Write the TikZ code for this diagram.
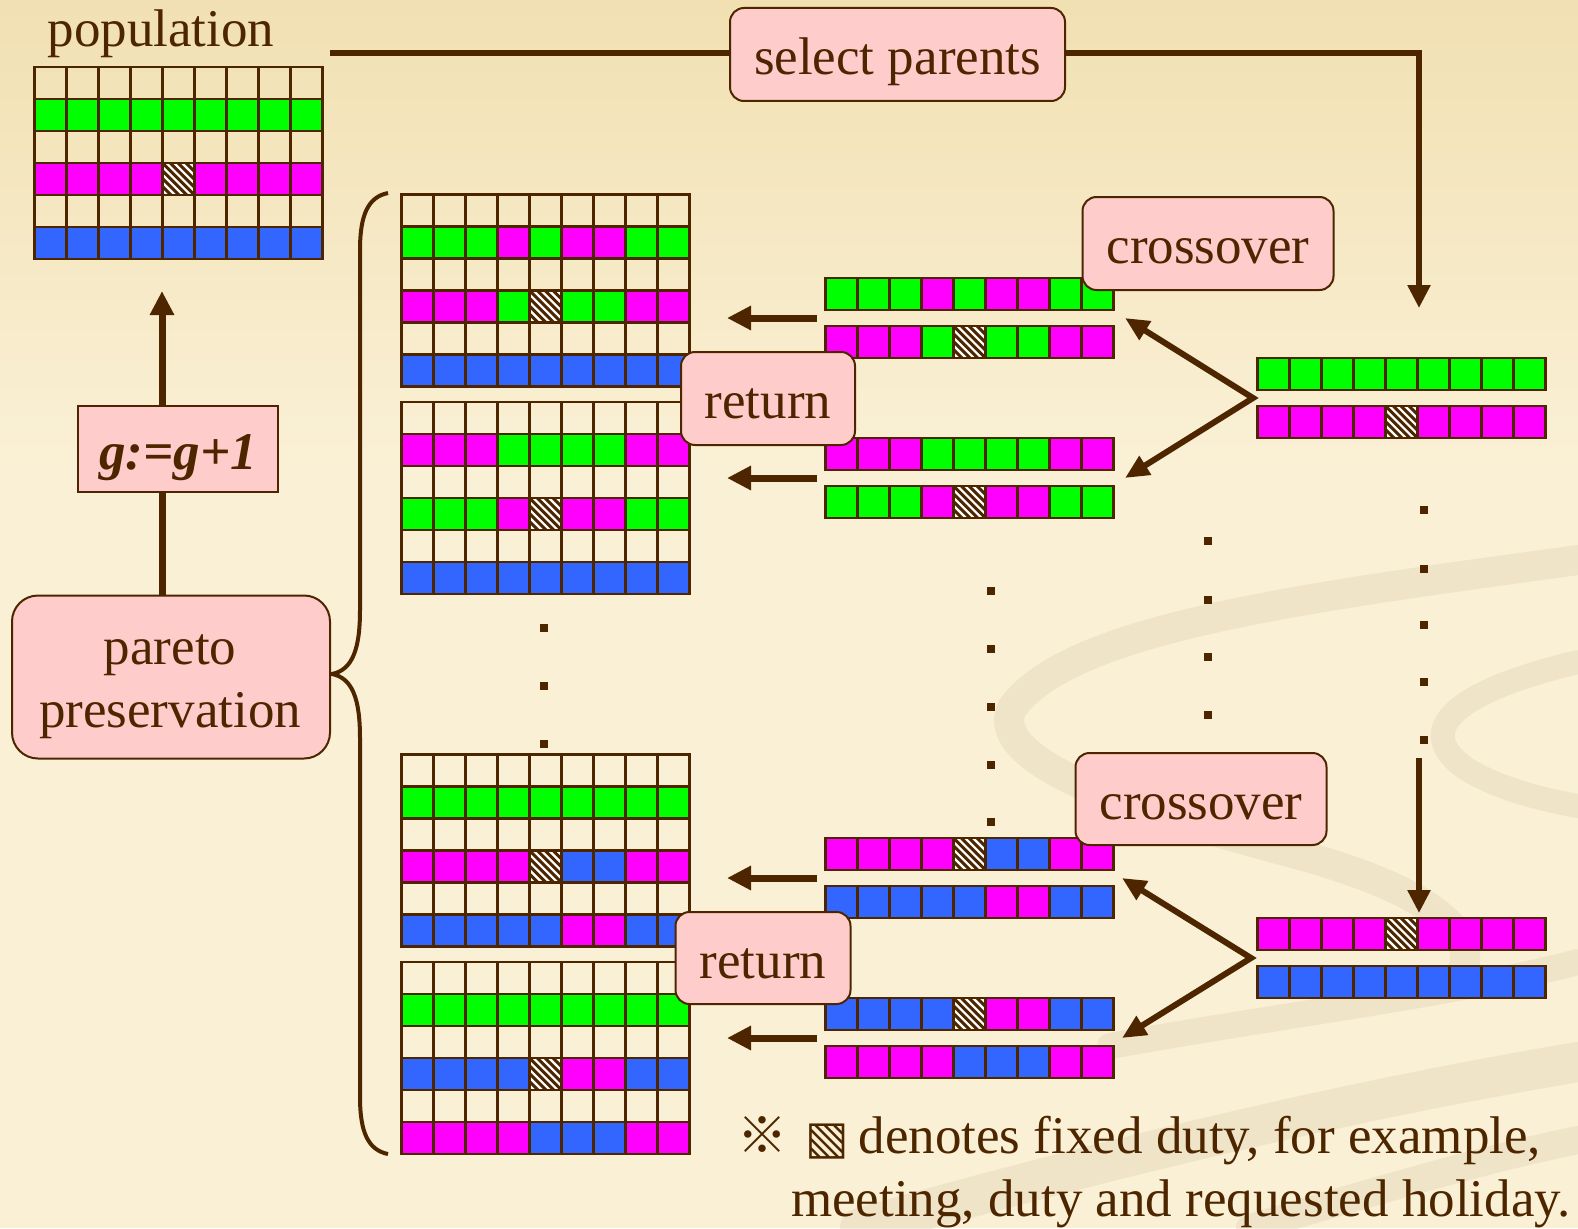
\documentclass[tikz,border=0pt]{standalone}
\usepackage{fontspec}
\setmainfont{Liberation Serif}
\newfontfamily\cjkfont{Noto Sans CJK JP}
\newfontfamily\symfont{DejaVu Sans}
\usetikzlibrary{arrows.meta}
\definecolor{brn}{RGB}{77,38,0}
\definecolor{cG}{RGB}{0,255,0}
\definecolor{cM}{RGB}{255,0,255}
\definecolor{cB}{RGB}{51,102,255}
\definecolor{pinkbox}{RGB}{255,204,204}
\definecolor{bgtop}{RGB}{241,224,178}
\definecolor{bgbot}{RGB}{250,240,213}
\definecolor{swirlc}{RGB}{222,210,178}
\newcommand\bigtxt{\fontsize{53}{62}\selectfont}
\tikzset{
  cellline/.style={draw=brn, line width=2.2},
  gridframe/.style={draw=brn, line width=2.2, inner sep=0pt, outer sep=0pt, anchor=north west},
  pbox/.style={draw=brn, line width=2, fill=pinkbox, rounded corners=14pt, inner sep=0pt,
    text=brn, font=\bigtxt, text height=40pt, text depth=0pt},
  txt/.style={text=brn, font=\bigtxt, inner sep=0pt},
  conn/.style={draw=brn, line width=6.5},
  vtip/.style={draw=brn, line width=5.5, -{Triangle[length=23pt,width=22pt]}},
  thickarrow/.style={draw=brn, line width=7, -{Triangle[length=24pt,width=23pt]}},
  xarrow/.style={draw=brn, line width=6, {Triangle[length=24pt,width=21pt]}-{Triangle[length=24pt,width=21pt]}},
  swirl/.style={draw=swirlc, opacity=0.38, line cap=round},
  dotmark/.style={fill=brn}
}
\newcommand\cellG[2]{\filldraw[fill=cG,cellline] ({#1},{#2}) rectangle ++(32,32);}
\newcommand\cellM[2]{\filldraw[fill=cM,cellline] ({#1},{#2}) rectangle ++(32,32);}
\newcommand\cellB[2]{\filldraw[fill=cB,cellline] ({#1},{#2}) rectangle ++(32,32);}
\newcommand\cellE[2]{\draw[cellline] ({#1},{#2}) rectangle ++(32,32);}
\newcommand\cellH[2]{%
  \begin{scope}
    \clip ({#1},{#2}) rectangle ++(32,32);
    \fill[white] ({#1},{#2}) rectangle ++(32,32);
    \foreach \k in {-5,...,5}{\draw[brn,line width=3] ({#1+\k*7.8},{#2}) -- ++(32,32);}
  \end{scope}
  \draw[cellline] ({#1},{#2}) rectangle ++(32,32);}
\newcommand\cellrow[3]{\foreach \c [count=\i from 0] in {#3}{\csname cell\c\endcsname{#1+\i*32}{#2}}}
\newcommand\sixgrid[5]{%
  \cellrow{#1}{#2}{E,E,E,E,E,E,E,E,E}
  \cellrow{#1}{#2+64}{E,E,E,E,E,E,E,E,E}
  \cellrow{#1}{#2+128}{E,E,E,E,E,E,E,E,E}
  \cellrow{#1}{#2+32}{#3}
  \cellrow{#1}{#2+96}{#4}
  \cellrow{#1}{#2+160}{#5}}
\begin{document}
\begin{tikzpicture}[x=1pt,y=-1pt]
\useasboundingbox (0,0) rectangle (1578,1228);
% background
\fill[bgbot] (0,0) rectangle (1578,1228);
\shade[top color=bgtop, bottom color=bgbot] (0,0) rectangle (1578,460);
% decorative swirls
\draw[swirl, line width=30] (1578,560) .. controls (1300,598) and (1070,628) .. (1012,708) .. controls (985,765) and (1150,815) .. (1300,855) .. controls (1420,888) and (1480,930) .. (1462,972);
\draw[swirl, line width=24] (1578,662) .. controls (1460,690) and (1410,728) .. (1465,768) .. controls (1500,790) and (1545,800) .. (1578,806);
\draw[swirl, line width=26] (1110,1046) .. controls (1300,1012) and (1450,995) .. (1578,962);
\draw[swirl, line width=40] (860,1228) .. controls (1100,1160) and (1350,1100) .. (1578,1062);
\draw[swirl, line width=28] (1250,1228) .. controls (1380,1190) and (1480,1160) .. (1578,1140);

% ---------- population grid ----------
\node[txt, anchor=base] (poplbl) at (161,47) {population};
\sixgrid{34.5}{67}{G,G,G,G,G,G,G,G,G}{M,M,M,M,H,M,M,M,M}{B,B,B,B,B,B,B,B,B}
\node[gridframe, minimum width=288, minimum height=192] (pop) at (34.5,67) {};

% ---------- offspring populations ----------
\sixgrid{401.5}{194.5}{G,G,G,M,G,M,M,G,G}{M,M,M,G,H,G,G,M,M}{B,B,B,B,B,B,B,B,B}
\node[gridframe, minimum width=288, minimum height=192] (g1) at (401.5,194.5) {};
\sixgrid{401.5}{402}{M,M,M,G,G,G,G,M,M}{G,G,G,M,H,M,M,G,G}{B,B,B,B,B,B,B,B,B}
\node[gridframe, minimum width=288, minimum height=192] (g2) at (401.5,402) {};
\sixgrid{401.5}{754.5}{G,G,G,G,G,G,G,G,G}{M,M,M,M,H,B,B,M,M}{B,B,B,B,B,M,M,B,B}
\node[gridframe, minimum width=288, minimum height=192] (g3) at (401.5,754.5) {};
\sixgrid{401.5}{962}{G,G,G,G,G,G,G,G,G}{B,B,B,B,H,M,M,B,B}{M,M,M,M,B,B,B,M,M}
\node[gridframe, minimum width=288, minimum height=192] (g4) at (401.5,962) {};

% ---------- children strips ----------
\cellrow{825.5}{278}{G,G,G,M,G,M,M,G,G}
\node[gridframe, minimum width=288, minimum height=32] (sA) at (825.5,278) {};
\cellrow{825.5}{326}{M,M,M,G,H,G,G,M,M}
\node[gridframe, minimum width=288, minimum height=32] (sB) at (825.5,326) {};
\cellrow{825.5}{438}{M,M,M,G,G,G,G,M,M}
\node[gridframe, minimum width=288, minimum height=32] (sC) at (825.5,438) {};
\cellrow{825.5}{486}{G,G,G,M,H,M,M,G,G}
\node[gridframe, minimum width=288, minimum height=32] (sD) at (825.5,486) {};
\cellrow{825.5}{838}{M,M,M,M,H,B,B,M,M}
\node[gridframe, minimum width=288, minimum height=32] (sE) at (825.5,838) {};
\cellrow{825.5}{886}{B,B,B,B,B,M,M,B,B}
\node[gridframe, minimum width=288, minimum height=32] (sF) at (825.5,886) {};
\cellrow{825.5}{998}{B,B,B,B,H,M,M,B,B}
\node[gridframe, minimum width=288, minimum height=32] (sG) at (825.5,998) {};
\cellrow{825.5}{1046}{M,M,M,M,B,B,B,M,M}
\node[gridframe, minimum width=288, minimum height=32] (sH) at (825.5,1046) {};

% ---------- parents strips ----------
\cellrow{1257.5}{358}{G,G,G,G,G,G,G,G,G}
\node[gridframe, minimum width=288, minimum height=32] (p1) at (1257.5,358) {};
\cellrow{1257.5}{406}{M,M,M,M,H,M,M,M,M}
\node[gridframe, minimum width=288, minimum height=32] (p2) at (1257.5,406) {};
\cellrow{1257.5}{918}{M,M,M,M,H,M,M,M,M}
\node[gridframe, minimum width=288, minimum height=32] (p3) at (1257.5,918) {};
\cellrow{1257.5}{966}{B,B,B,B,B,B,B,B,B}
\node[gridframe, minimum width=288, minimum height=32] (p4) at (1257.5,966) {};

% ---------- ellipsis dots ----------
\foreach \y in {628,686,744} \fill[dotmark] (540,{\y-4}) rectangle ++(8,8);
\foreach \y in {591,649,707,765,822} \fill[dotmark] (987,{\y-4}) rectangle ++(8,8);
\foreach \y in {541,600,657,715} \fill[dotmark] (1204,{\y-4}) rectangle ++(8,8);
\foreach \y in {510,569,625,682,740} \fill[dotmark] (1420,{\y-4}) rectangle ++(8,8);

% ---------- brace ----------
\draw[brn, line width=4] (388,193) .. controls (368,197) and (360,215) .. (360,250) -- (360,610)
  .. controls (360,650) and (352,670) .. (332,674)
  .. controls (352,678) and (360,698) .. (360,738) -- (360,1097)
  .. controls (360,1132) and (368,1150) .. (388,1154);

% ---------- connectors ----------
\coordinate (selstart) at (330,53);
\coordinate (rtop) at (1419,53);
\coordinate (rtip) at (1419,308);
\coordinate (rlow) at (1419,758);
\coordinate (rlowtip) at (1419,913);
\coordinate (gx) at (162,0);
\coordinate (gtip) at (162,291);
\coordinate (v1) at (1253,398);
\coordinate (c1a) at (1125,318);
\coordinate (c1b) at (1125,478);
\coordinate (v2) at (1251,958);
\coordinate (c2a) at (1122,878);
\coordinate (c2b) at (1122,1038);
\coordinate (ra1) at (817,318);  \coordinate (rb1) at (727,318);
\coordinate (ra2) at (817,478);  \coordinate (rb2) at (727,478);
\coordinate (ra3) at (817,878);  \coordinate (rb3) at (727,878);
\coordinate (ra4) at (817,1038); \coordinate (rb4) at (727,1038);

\draw[conn] (selstart) -- ([xshift=2.75pt]rtop);
\draw[vtip] ([yshift=-3pt]rtop) -- (rtip);
\draw[vtip] (rlow) -- (rlowtip);
\draw[xarrow] (c1a) -- (v1) -- (c1b);
\draw[xarrow] (c2a) -- (v2) -- (c2b);
\draw[thickarrow] (ra1) -- (rb1);
\draw[thickarrow] (ra2) -- (rb2);
\draw[thickarrow] (ra3) -- (rb3);
\draw[thickarrow] (ra4) -- (rb4);

% ---------- boxes ----------
\node[pbox, minimum width=335, minimum height=93] (sel) at (897.5,54.5) {select parents};
\node[pbox, minimum width=251, minimum height=93] (cx1) at (1208,243.5) {crossover};
\node[pbox, minimum width=251, minimum height=92] (cx2) at (1201,799) {crossover};
\node[pbox, minimum width=174, minimum height=93] (ret1) at (768,398.5) {return};
\node[pbox, minimum width=175, minimum height=92] (ret2) at (763,958) {return};
\node[pbox, rounded corners=0pt, minimum width=200, minimum height=86] (ginc) at (178,449) {\bfseries\itshape g:=g+1};
\node[pbox, rounded corners=26pt, minimum width=318, minimum height=163] (pareto) at (171,677) {};
\node[txt, anchor=base] (pt1) at (170,664) {pareto};
\node[txt, anchor=base] (pt2) at (170,727) {preservation};

\draw[draw=brn, line width=7] (pareto.north -| gx) -- (ginc.south -| gx);
\draw[thickarrow] (ginc.north -| gx) -- (gtip);

% ---------- footnote ----------
\node[txt, anchor=base west] (note1) at (737,1153)
  {{\cjkfont\fontsize{50}{56}\selectfont ※}\hspace{18pt}{\symfont\fontsize{46}{50}\selectfont ▧}\hspace{10pt}denotes fixed duty, for example,};
\node[txt, anchor=base west] (note2) at (791,1216) {meeting, duty and requested holiday.};
\end{tikzpicture}
\end{document}
